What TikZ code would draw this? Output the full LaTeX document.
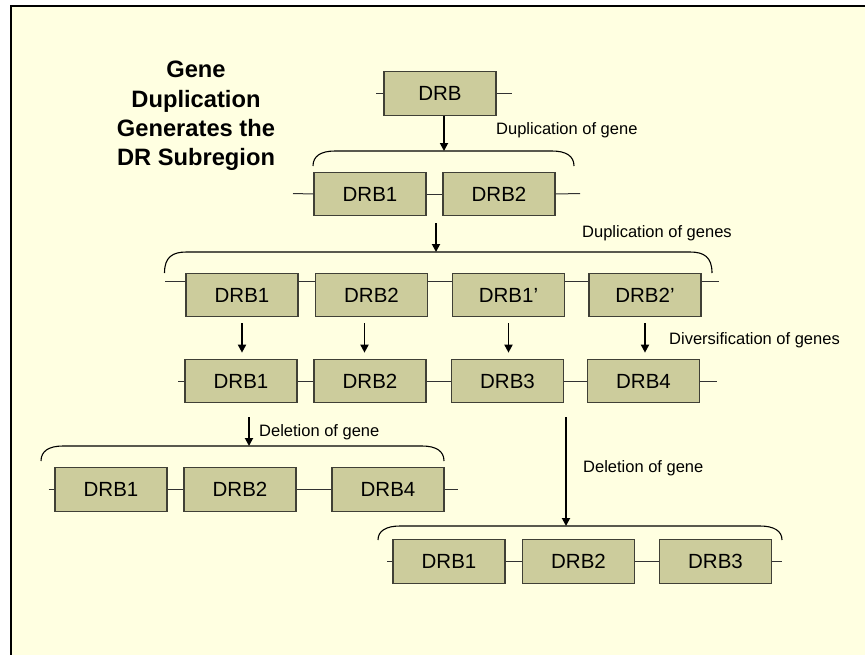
\documentclass[tikz,border=0pt]{standalone}
\usepackage{fontspec}
\setmainfont{Liberation Sans}
\usetikzlibrary{arrows.meta}
\definecolor{paper}{RGB}{255,255,225}
\definecolor{genefill}{RGB}{204,204,156}
\definecolor{geneedge}{RGB}{64,64,54}
\definecolor{strandcol}{RGB}{50,50,50}
% bracket over a row of genes: x-left, x-right, y-top, drop
\newcommand\genebracket[4]{%
  \draw[bracket] (#1,#3+#4) .. controls (#1,#3+5) and (#1+8,#3) .. (#1+22,#3)
    -- (#2-22,#3) .. controls (#2-8,#3) and (#2,#3+5) .. (#2,#3+#4);}
\begin{document}
\begin{tikzpicture}[x=1pt,y=-1pt,
  gene/.style={draw=geneedge, line width=1.2pt, fill=genefill,
    minimum width=112pt, minimum height=43.5pt, inner sep=0pt,
    font=\fontsize{20.5}{24}\selectfont},
  strand/.style={draw=strandcol, line width=1pt},
  bracket/.style={draw=black, line width=1.1pt},
  flow/.style={draw=black, line width=1.8pt, -{Triangle[length=8pt,width=8pt]}},
  note/.style={inner sep=0pt, anchor=west, font=\fontsize{16.5}{19}\selectfont},
  title/.style={align=center, inner sep=0pt,
    font=\fontsize{23.7}{29.2}\selectfont\bfseries}]

\useasboundingbox (0,0) rectangle (865,654);
\clip (0,0) rectangle (865,654);
\fill[white] (0,0) rectangle (865,654);
\draw[fill=paper, line width=2pt] (11,6) rectangle (885,680);

% heading
\node[title] (head) at (196,116) {Gene\\Duplication\\Generates the\\DR Subregion};

% ancestral gene
\node[gene] (g0) at (440,93.5) {DRB};
\coordinate (g0l) at (376,93.5);
\coordinate (g0r) at (512,93.5);
\draw[strand] (g0l) -- (g0.west);
\draw[strand] (g0.east) -- (g0r);

% first duplication
\genebracket{313}{574}{151}{15}
\coordinate (b1) at (444,151);
\draw[flow] (g0.south -| b1) -- (b1);
\node[note] (t1) at (496,130) {Duplication of gene};

\node[gene] (g1a) at (370,194) {DRB1};
\node[gene] (g1b) at (499,194) {DRB2};
\coordinate (g1l) at (293,193.5);
\coordinate (g1r) at (580,193.5);
\draw[strand] (g1l) -- (g1a.west);
\draw[strand] (g1a.east) -- (g1b.west);
\draw[strand] (g1b.east) -- (g1r);

% second duplication
\coordinate (a2) at (436,223);
\coordinate (b2) at (436,252);
\draw[flow] (a2) -- (b2);
\genebracket{164.5}{712}{252}{21}
\node[note] (t2) at (582,233) {Duplication of genes};

\node[gene] (g2a) at (242,295) {DRB1};
\node[gene] (g2b) at (371.5,295) {DRB2};
\node[gene] (g2c) at (508.5,295) {DRB1’};
\node[gene] (g2d) at (645,295) {DRB2’};
\coordinate (g2l) at (165,281);
\coordinate (g2r) at (719,281);
\draw[strand] (g2l) -- ([yshift=14pt]g2a.west);
\draw[strand] ([yshift=14pt]g2a.east) -- ([yshift=14pt]g2b.west);
\draw[strand] ([yshift=14pt]g2b.east) -- ([yshift=14pt]g2c.west);
\draw[strand] ([yshift=14pt]g2c.east) -- ([yshift=14pt]g2d.west);
\draw[strand] ([yshift=14pt]g2d.east) -- (g2r);

% diversification
\node[gene] (g3a) at (241,381) {DRB1};
\node[gene] (g3b) at (370,381) {DRB2};
\node[gene] (g3c) at (507.5,381) {DRB3};
\node[gene] (g3d) at (643.5,381) {DRB4};
\coordinate (g3l) at (178,381);
\coordinate (g3r) at (717,381);
\draw[strand] (g3l) -- (g3a.west);
\draw[strand] (g3a.east) -- (g3b.west);
\draw[strand] (g3b.east) -- (g3c.west);
\draw[strand] (g3c.east) -- (g3d.west);
\draw[strand] (g3d.east) -- (g3r);

\draw[flow, shorten <=6pt, shorten >=6pt] (g2a.south) -- (g2a.south |- g3a.north);
\draw[flow, shorten <=6pt, shorten >=6pt] ([xshift=-7pt]g2b.south) -- ([xshift=-7pt]g2b.south |- g3b.north);
\draw[flow, shorten <=6pt, shorten >=6pt] (g2c.south) -- (g2c.south |- g3c.north);
\draw[flow, shorten <=6pt, shorten >=6pt] (g2d.south) -- (g2d.south |- g3d.north);
\node[note] (t3) at (669,340) {Diversification of genes};

% deletion of DRB3
\coordinate (a4) at (249,417);
\coordinate (b4) at (249,446);
\draw[flow] (a4) -- (b4);
\genebracket{41}{444}{446}{15}
\node[note] (t4) at (259,432) {Deletion of gene};

\node[gene] (g4a) at (111,489.5) {DRB1};
\node[gene] (g4b) at (240,489.5) {DRB2};
\node[gene] (g4c) at (388,489.5) {DRB4};
\coordinate (g4l) at (48.5,489.5);
\coordinate (g4r) at (458,489.5);
\draw[strand] (g4l) -- (g4a.west);
\draw[strand] (g4a.east) -- (g4b.west);
\draw[strand] (g4b.east) -- (g4c.west);
\draw[strand] (g4c.east) -- (g4r);

% deletion of DRB4
\coordinate (a5) at (566,417);
\coordinate (b5) at (566,526);
\draw[flow] (a5) -- (b5);
\genebracket{378}{782}{526}{14}
\node[note] (t5) at (583,468) {Deletion of gene};

\node[gene] (g5a) at (449,561.5) {DRB1};
\node[gene] (g5b) at (578.5,561.5) {DRB2};
\node[gene] (g5c) at (715.5,561.5) {DRB3};
\coordinate (g5l) at (387,561.5);
\coordinate (g5r) at (782,561.5);
\draw[strand] (g5l) -- (g5a.west);
\draw[strand] (g5a.east) -- (g5b.west);
\draw[strand] (g5b.east) -- (g5c.west);
\draw[strand] (g5c.east) -- (g5r);
\end{tikzpicture}
\end{document}
